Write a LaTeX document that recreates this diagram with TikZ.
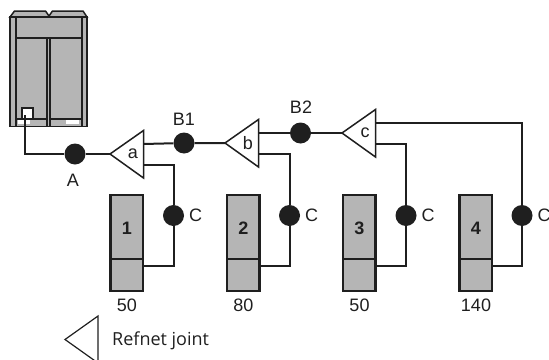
\documentclass[tikz,border=0pt]{standalone}
\usepackage{fontspec}
\setmainfont{Liberation Sans}
\newfontfamily\refnetfont{Open Sans}
\usetikzlibrary{calc}
\definecolor{unitgray}{gray}{.71}
\definecolor{linegray}{gray}{.12}
\tikzset{
  pipe/.style={draw=linegray, line width=2pt},
  dot/.style={circle, fill=linegray, draw=none, minimum size=21pt, inner sep=0},
  joint/.style={draw=linegray, line width=1.5pt, fill=white, line join=miter},
  unitbox/.style={draw=linegray, line width=2.2pt, fill=unitgray},
  lab/.style={font=\fontsize{18}{20}\selectfont, text=linegray, inner sep=0},
}
\begin{document}
\begin{tikzpicture}[x=1pt,y=-1pt]
\useasboundingbox (0,0) rectangle (549,359);
% outdoor unit
\draw[unitbox, line width=1.5pt] (10,17) -- (14.5,11) -- (45.5,11) -- (49,16) -- (52.5,11) -- (83,11) -- (87,17) -- cycle;
\draw[unitbox, line width=1.8pt] (10,17) rectangle (87,126.5);
\draw[pipe] (15.5,17) -- (15.5,126.5);
\draw[pipe] (81.5,17) -- (81.5,126.5);
\draw[pipe] (15.5,38) -- (81.5,38);
\draw[pipe] (47,38) -- (47,126.5);
\draw[pipe] (50,38) -- (50,126.5);
\draw[pipe] (15.5,118.5) -- (47,118.5);
\draw[pipe] (50,118.5) -- (81.5,118.5);
\fill[white] (18,120) rectangle (30,124);
\fill[white] (66,119.5) rectangle (78.5,124);
\draw[pipe, fill=white] (22,107.5) rectangle (33,118.5);
\coordinate (port) at (25,115);
% refnet joints
\foreach \name/\x/\y in {a/110/154, b/225/143, c/342/133} {
 \draw[joint] (\x,\y) --++(33.5,-23.5) --++(0,47.5) -- cycle;
 \coordinate (tip\name) at (\x,\y);
 \coordinate (up\name) at (\x+33.5,\y-10);
 \coordinate (low\name) at (\x+33.5,\y+11);
 \node[lab] at (\x+23,\y) {\name};
}
% main line
\node[dot] (dotA) at (75,154) {};
\node[dot] (dotB1) at (184,143) {};
\node[dot] (dotB2) at (300.5,133) {};
\draw[pipe] (port) |- (dotA);
\draw[pipe] (dotA) -- (tipa);
\draw[pipe] (upa) -- (dotB1) -- (tipb);
\draw[pipe] (upb) -- (dotB2) -- (tipc);
\node[lab] at (73,180) {A};
\node[lab] at (184,119) {B1};
\node[lab] at (301,107) {B2};
% indoor units
\foreach \n/\x/\dotx/\val/\from in {1/110.5/173.5/50/lowa, 2/227/289.5/80/lowb, 3/343/406/50/lowc, 4/459.5/522/140/upc} {
 \draw[unitbox] (\x,195) rectangle (\x+32.5,259);
 \draw[unitbox] (\x,259) rectangle (\x+32.5,291);
 \coordinate (back\n) at (\x+32.5,266);
 \node[dot] (dotC\n) at (\dotx,215.5) {};
 \draw[pipe] (\from) -| (dotC\n);
 \draw[pipe] (dotC\n) |- (back\n);
 \node[lab, anchor=west] at (\dotx+15.5,215) {C};
 \node[lab, font=\fontsize{18}{20}\selectfont\bfseries] at (\x+16.5,228) {\n};
 \node[lab] at (\x+16.5,305) {\val};
}
% legend
\draw[joint, line width=1.2pt, fill=none] (65,339.5) --++(33,-23.5) --++(0,47) -- cycle;
\node[lab, anchor=west, font=\fontsize{18}{20}\refnetfont] (legend) at (112,341) {Refnet joint};
\end{tikzpicture}
\end{document}
